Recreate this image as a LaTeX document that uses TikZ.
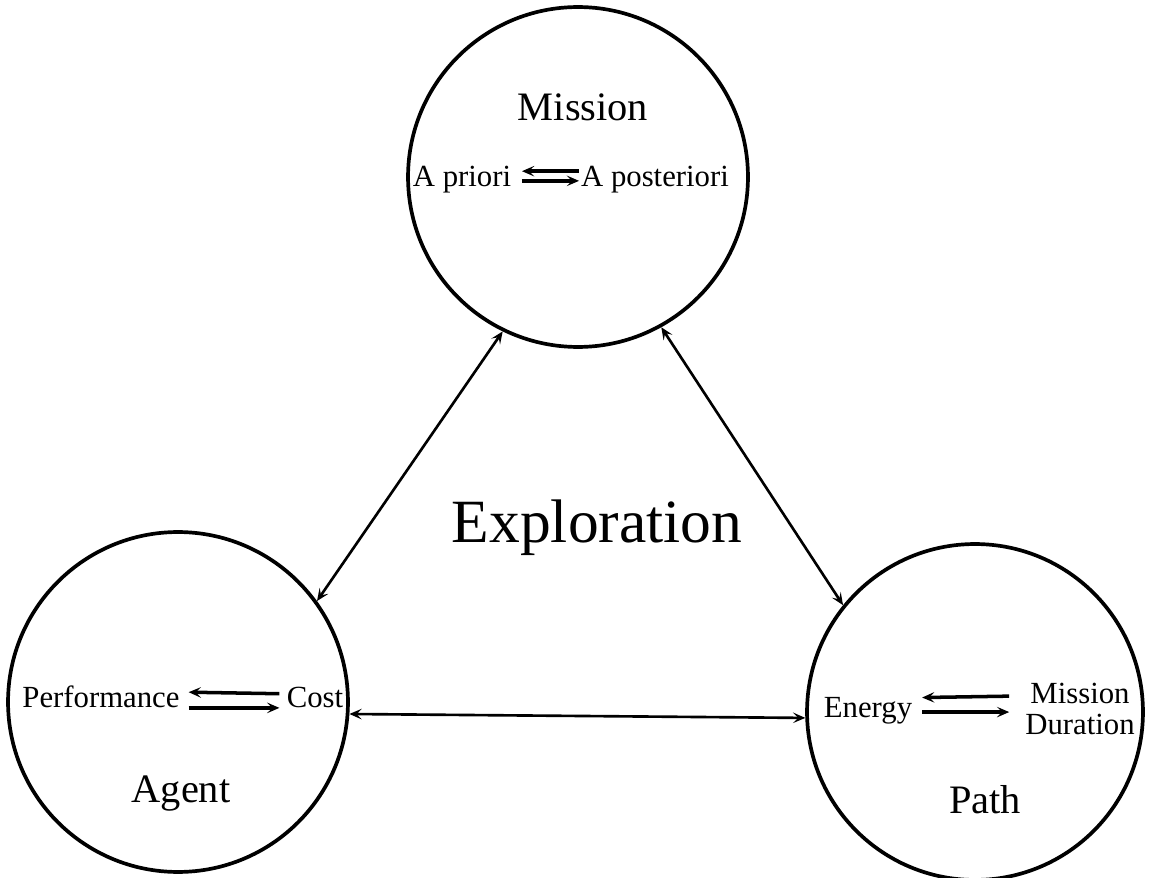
\documentclass[tikz,border=0pt]{standalone}
\usepackage{fontspec}
\setmainfont{Liberation Serif}
\usetikzlibrary{arrows.meta}
\begin{document}
\begin{tikzpicture}[x=0.02cm,y=-0.02cm,
		topic/.style={circle,draw,line width=2.1pt,minimum size=6.8cm,inner sep=0pt},
		title/.style={anchor=base,font=\fontsize{23}{27}\selectfont},
		term/.style={anchor=base,inner sep=1pt,font=\fontsize{17.5}{17.6}\selectfont},
		link/.style={line width=1.5pt,{Stealth[length=7pt,width=6pt,inset=3pt]}-{Stealth[length=7pt,width=6pt,inset=3pt]}},
		pairr/.style={line width=2pt,-{Stealth[length=7pt,width=6pt,inset=3pt]}},
		pairl/.style={line width=2pt,{Stealth[length=7pt,width=6pt,inset=3pt]}-}]
	\useasboundingbox (0,0) rectangle (1153,878);
	\node[topic] (mission) at (578,177) {};
	\node[topic] (agent) at (178,702) {};
	\node[topic,minimum size=6.72cm] (path) at (975,712) {};
	\node[title] (missiont) at (583,121) {Mission};
	\node[title] (agentt) at (181,802) {Agent};
	\node[title] (patht) at (985,813) {Path};
	\node[anchor=base,font=\fontsize{35}{40}\selectfont] (expl) at (597,542) {Exploration};
	% mission
	\node[term] (prior) at (462,187) {A priori};
	\node[term] (post) at (655,187) {A posteriori};
	\draw[pairl,shorten <=5pt] ([yshift=9pt]prior.base east) -- ([yshift=9pt]post.base west);
	\draw[pairr,shorten <=5pt] ([yshift=3.5pt]prior.base east) -- ([yshift=3.5pt]post.base west);
	% agent
	\node[term] (perf) at (101,707) {Performance};
	\node[term] (cost) at (315,707) {Cost};
	\draw[pairl,shorten <=4pt,shorten >=3pt] ([yshift=8.5pt]perf.base east) -- ([yshift=7.5pt]cost.base west);
	\draw[pairr,shorten <=4pt,shorten >=3pt] ([yshift=-0.5pt]perf.base east) -- ([yshift=-0.5pt]cost.base west);
	% path
	\node[term] (energy) at (868,717) {Energy};
	\node[term,anchor=center,align=center] (dur) at (1080,709) {Mission\\Duration};
	\draw[pairl,shorten <=4.5pt,shorten >=8pt] ([yshift=11pt]energy.base east) -- ([yshift=12pt]energy.base east -| dur.west);
	\draw[pairr,shorten <=4.5pt,shorten >=8pt] ([yshift=2.8pt]energy.base east) -- ([yshift=2.8pt]energy.base east -| dur.west);
	% links
	\draw[link] (mission.244) -- (agent.36);
	\draw[link] (mission.299) -- (path.141);
	\draw[link] (agent.356) -- (path.182);
\end{tikzpicture}
\end{document}
